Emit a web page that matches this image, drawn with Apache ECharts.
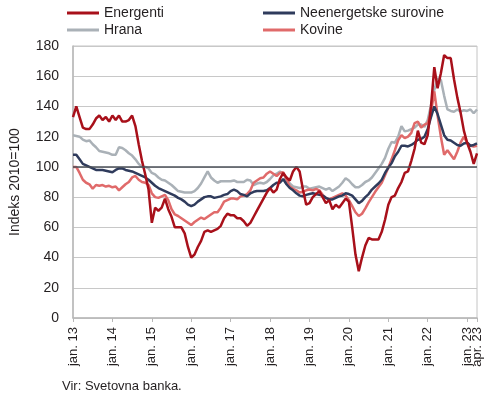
<!DOCTYPE html>
<html>
<head>
<meta charset="utf-8">
<script src="https://cdn.jsdelivr.net/npm/echarts@6/dist/echarts.min.js"></script>
<style>
  html, body { margin: 0; padding: 0; background: #fff; }
  #chart { width: 490px; height: 397px; }
</style>
</head>
<body>
<div id="chart"></div>
<script>
// mesečni podatki, jan. 2013 - apr. 2023 (indeks 2010=100)
var years = ['13', '14', '15', '16', '17', '18', '19', '20', '21', '22', '23']
var monthNames = ['jan.', 'feb.', 'mar.', 'apr.', 'maj', 'jun.', 'jul.', 'avg.', 'sep.', 'okt.', 'nov.', 'dec.']
var janLabels = ['jan. 13', 'jan. 14', 'jan. 15', 'jan. 16', 'jan. 17', 'jan. 18', 'jan. 19', 'jan. 20', 'jan. 21', 'jan. 22', 'jan. 23']
var lastLabel = 'apr. 23'

var energenti = [
  133, 140, 133, 126, 125, 125, 128, 132, 134, 131,
  133, 130, 134, 131, 134, 130, 130, 131, 134, 127,
  115, 104, 95, 85, 63, 73, 71, 73, 79, 72,
  67, 60, 60, 60, 56, 47, 40, 42, 47, 51,
  57, 58, 57, 58, 59, 61, 66, 69, 68, 68,
  66, 66, 64, 61, 63, 67, 71, 75, 79, 83,
  86, 83, 85, 92, 96, 93, 91, 97, 100, 97,
  85, 75, 76, 80, 82, 84, 80, 76, 78, 72,
  75, 73, 76, 79, 77, 60, 42, 31, 40, 48,
  53, 52, 52, 52, 57, 65, 75, 80, 81, 86,
  90, 96, 97, 104, 112, 124, 116, 115, 121, 140,
  166, 152, 162, 174, 172, 172, 158, 146, 136, 124,
  116, 110, 102, 109
]
var neenergetske = [
  108, 108, 105, 102, 101, 100, 99, 98, 98, 98,
  97.5, 97, 96.5, 98, 99, 99, 98, 97.5, 97, 96,
  95, 94, 93, 91.5, 89.5, 87.5, 86, 85, 84, 83,
  82, 81, 79.5, 78.5, 77, 75, 74, 75, 77, 78.5,
  80, 80.5, 80.5, 79.5, 80, 80.5, 81.5, 82, 84, 85,
  84, 82, 81.5, 80.5, 82.5, 83.5, 84, 84, 84, 84.5,
  86, 88, 89.5, 89.5, 92, 88.5, 86, 84.5, 82.5, 81,
  80.5, 81.5, 82, 82.5, 82, 81.5, 81, 79.5, 78.5, 78.5,
  79.5, 80.5, 81, 82.5, 82, 81, 78.5, 76, 77.5, 80,
  82, 85, 87, 89, 91.5, 96, 99.5, 102.5, 107, 110,
  114, 114, 113.5, 114.5, 116, 118, 118.5, 120, 125, 133,
  140, 135, 128, 121, 118, 117.5, 116, 114.5, 114, 115.5,
  116, 114, 114.5, 115.5
]
var hrana = [
  121, 120.5, 120, 118, 117, 117.5, 115, 113, 110.5, 110,
  109.5, 109, 108, 108, 113, 112.5, 111, 109, 107.5, 105,
  102, 100, 100, 99, 96, 95, 93, 91.5, 91, 89.5,
  88, 86, 84, 83.5, 83, 83, 83, 84, 86, 89,
  93, 97, 93, 91, 89.5, 90.5, 90.5, 90.5, 90.5, 91,
  90, 90, 90, 91.5, 91, 88, 89, 89.5, 89, 90,
  92, 94.5, 95.5, 97, 95.5, 92, 89, 87, 86.5, 86,
  87, 87, 85.5, 86, 86.5, 87, 86, 85, 86, 84,
  85.5, 87, 89.5, 92.5, 91, 88.5, 86.5, 86.5, 88, 90,
  91, 93, 96, 99, 102, 106, 112, 116.5, 116, 120,
  127, 123.5, 124, 125, 126, 128, 128, 126.5, 131, 141,
  151, 158.5, 157.5, 147, 138, 137, 136.5, 138, 136.5, 137.5,
  137, 138, 135.5, 138
]
var kovine = [
  100, 100, 96, 91.5, 89.5, 88.5, 85.5, 88, 87.5, 88,
  87, 87.5, 86.5, 87, 84.5, 86.5, 88.5, 90, 93, 94,
  91.5, 90, 89.5, 88, 82.5, 80, 79.5, 80.5, 81.5, 78,
  72, 68.5, 67.5, 66, 64.5, 63, 61.5, 63.5, 65, 66.5,
  65.5, 67, 68.5, 70, 70, 73, 77, 78, 79, 79,
  78.5, 80.5, 81, 82, 84.5, 89.5, 91, 92.5, 93, 95.5,
  97, 95.5, 94, 96, 96.5, 91.5, 87, 85.5, 84.5, 83,
  83.5, 84.5, 85, 84.5, 85.5, 84.5, 81.5, 79.5, 78.5, 79.5,
  80.5, 81.5, 82.5, 81, 78, 74, 70, 67.5, 69, 72.5,
  76.5, 80, 83.5, 86.5, 89.5, 94.5, 99.5, 105, 111, 117.5,
  121, 119, 120, 122.5, 129, 130, 126, 128, 129, 136,
  150, 134, 120, 108, 111, 108, 105, 110, 116, 120,
  116, 114, 113.5, 114
]

var categories = []
years.forEach(function (y) {
  monthNames.forEach(function (m) {
    categories.push(m + ' ' + y)
  })
})
categories = categories.slice(0, energenti.length)

function isJan(index) {
  return janLabels.indexOf(categories[index]) !== -1
}
function isLast(index) {
  return categories[index] === lastLabel
}
function isTick(index) {
  return isJan(index) || isLast(index)
}

var fontName = 'Liberation Sans'
var textColor = '#231f20'
var labelStyle = {
  rotate: 90,
  margin: 9,
  fontSize: 13,
  color: textColor,
  fontFamily: fontName
}

var option = {
  animation: false,
  textStyle: { fontFamily: fontName },
  title: {
    text: 'Vir: Svetovna banka.',
    left: 57,
    top: 375,
    textStyle: { fontSize: 13, fontWeight: 'normal', color: textColor, fontFamily: fontName }
  },
  legend: [
    {
      data: ['Energenti', 'Hrana'],
      orient: 'vertical',
      left: 62,
      top: 1,
      icon: 'rect',
      itemWidth: 32,
      itemHeight: 3,
      itemGap: 3,
      textStyle: { fontSize: 14, color: textColor, fontFamily: fontName }
    },
    {
      data: ['Neenergetske surovine', 'Kovine'],
      orient: 'vertical',
      left: 258,
      top: 1,
      icon: 'rect',
      itemWidth: 32,
      itemHeight: 3,
      itemGap: 3,
      textStyle: { fontSize: 14, color: textColor, fontFamily: fontName }
    }
  ],
  grid: {
    left: 67,
    right: 13,
    top: 46,
    bottom: 79,
    show: true,
    borderColor: '#c4c4c4',
    borderWidth: 1
  },
  xAxis: [
    {
      type: 'category',
      data: categories,
      boundaryGap: false,
      axisLine: { lineStyle: { color: '#b8b8b8', width: 1.5 } },
      axisTick: {
        show: true,
        interval: isTick,
        length: 4,
        lineStyle: { color: '#b8b8b8' }
      },
      axisLabel: Object.assign({ interval: isJan, showMinLabel: true, showMaxLabel: true }, labelStyle),
      splitLine: { show: false }
    },
    {
      // drugi sloj samo za zadnjo oznako (apr. 23)
      type: 'category',
      data: categories,
      position: 'bottom',
      boundaryGap: false,
      axisLine: { show: false },
      axisTick: { show: false },
      axisLabel: Object.assign({ interval: isLast, showMinLabel: false, showMaxLabel: true }, labelStyle),
      splitLine: { show: false }
    }
  ],
  yAxis: {
    type: 'value',
    min: 0,
    max: 180,
    interval: 20,
    name: 'Indeks 2010=100',
    nameLocation: 'middle',
    nameGap: 51,
    nameTextStyle: { fontSize: 14, color: textColor, fontFamily: fontName },
    axisLine: { show: true, lineStyle: { color: '#b8b8b8', width: 1.5 } },
    axisTick: { show: false },
    axisLabel: { fontSize: 14, color: textColor, margin: 14, fontFamily: fontName },
    splitLine: { lineStyle: { color: '#c8c8c8', width: 1 } }
  },
  series: [
    {
      name: 'Hrana',
      type: 'line',
      data: hrana,
      symbol: 'none',
      lineStyle: { color: '#aab1b7', width: 2.5 },
      itemStyle: { color: '#aab1b7' }
    },
    {
      name: 'Kovine',
      type: 'line',
      data: kovine,
      symbol: 'none',
      lineStyle: { color: '#e06a6a', width: 2.5 },
      itemStyle: { color: '#e06a6a' }
    },
    {
      name: 'Neenergetske surovine',
      type: 'line',
      data: neenergetske,
      symbol: 'none',
      lineStyle: { color: '#2f3b5c', width: 2.5 },
      itemStyle: { color: '#2f3b5c' }
    },
    {
      name: 'Energenti',
      type: 'line',
      data: energenti,
      symbol: 'none',
      lineStyle: { color: '#a8101a', width: 2.5 },
      itemStyle: { color: '#a8101a' },
      markLine: {
        silent: true,
        symbol: 'none',
        label: { show: false },
        lineStyle: { color: '#4a4f57', width: 1.5, type: 'solid' },
        data: [{ yAxis: 100 }]
      }
    }
  ]
}

var myChart = echarts.init(document.getElementById('chart'))
myChart.setOption(option)
</script>
</body>
</html>
